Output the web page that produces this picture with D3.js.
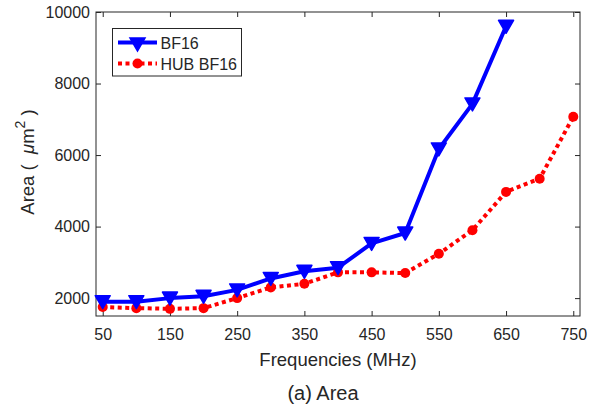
<!DOCTYPE html>
<html><head><meta charset="utf-8">
<script src="https://cdn.jsdelivr.net/npm/d3@7"></script>
<style>body{margin:0;background:#fff;} text{font-family:"Liberation Sans",Arial,sans-serif;fill:#262626;}</style>
</head><body>
<svg id="c" width="594" height="411"></svg>
<script>
const freqs = [50,100,150,200,250,300,350,400,450,500,550,600,650,700,750];
const bf16Freqs = [50,100,150,200,250,300,350,400,450,500,550,600,650];
const bf16Area = [1900,1900,2000,2050,2230,2550,2750,2850,3530,3820,6170,7430,9600];
const hubFreqs = [50,100,150,200,250,300,350,400,450,500,550,600,650,700,750];
const hubArea = [1750,1720,1700,1720,2000,2300,2400,2720,2720,2700,3240,3900,4970,5340,7070];
const xTicks = [50,150,250,350,450,550,650,750];
const yTicks = [2000,4000,6000,8000,10000];
const seriesNames = ["BF16","HUB BF16"];

const svg = d3.select("#c");
const L=96,R=580,T=12,B=316;
const x = d3.scaleLinear().domain([40,760]).range([L,R]);
const y = d3.scaleLinear().domain([1500,10000]).range([B,T]);
const ac = "#262626";

svg.append("rect").attr("x",L).attr("y",T).attr("width",R-L).attr("height",B-T)
  .attr("fill","none").attr("stroke",ac).attr("stroke-width",1);

const xa = svg.append("g").attr("transform",`translate(0,${B})`)
  .call(d3.axisBottom(x).tickValues(xTicks).tickSize(-5).tickPadding(13).tickFormat(d3.format("d")));
const xt = svg.append("g").attr("transform",`translate(0,${T})`)
  .call(d3.axisTop(x).tickValues(xTicks).tickSize(-5).tickFormat(""));
const ya = svg.append("g").attr("transform",`translate(${L},0)`)
  .call(d3.axisLeft(y).tickValues(yTicks).tickSize(-5).tickPadding(6).tickFormat(d3.format("d")));
const yr = svg.append("g").attr("transform",`translate(${R},0)`)
  .call(d3.axisRight(y).tickValues(yTicks).tickSize(-5).tickFormat(""));
[xa,xt,ya,yr].forEach(g=>{
  g.select(".domain").remove();
  g.selectAll("line").attr("stroke",ac);
  g.selectAll("text").attr("font-size",16).attr("fill",ac).style("font-family","Liberation Sans, Arial, sans-serif");
});

const bd = bf16Freqs.map((f,i)=>[f,bf16Area[i]]);
const hd = hubFreqs.map((f,i)=>[f,hubArea[i]]);
const line = d3.line().x(d=>x(d[0])).y(d=>y(d[1]));
svg.append("path").attr("d",line(hd)).attr("fill","none").attr("stroke","#ff0000")
  .attr("stroke-width",4).attr("stroke-dasharray","4,3.5");
svg.append("path").attr("d",line(bd)).attr("fill","none").attr("stroke","#0000ff")
  .attr("stroke-width",4).attr("stroke-linejoin","round");

const tri = (cx,cy)=>`M${cx-7.5},${cy-6} L${cx+7.5},${cy-6} L${cx},${cy+7} Z`;
svg.append("g").selectAll("circle").data(hd).join("circle")
  .attr("cx",d=>x(d[0])).attr("cy",d=>y(d[1])).attr("r",5).attr("fill","#ff0000");
svg.append("g").selectAll("path").data(bd).join("path")
  .attr("d",d=>tri(x(d[0]),y(d[1]))).attr("fill","#0000ff").attr("stroke","#0000ff").attr("stroke-width",1.5).attr("stroke-linejoin","round");

svg.append("rect").attr("x",112.5).attr("y",28.5).attr("width",129).attr("height",47.5)
  .attr("fill","#fff").attr("stroke",ac).attr("stroke-width",1);
svg.append("line").attr("x1",118).attr("x2",157).attr("y1",42.5).attr("y2",42.5).attr("stroke","#0000ff").attr("stroke-width",4);
svg.append("path").attr("d",tri(137.5,44)).attr("fill","#0000ff").attr("stroke","#0000ff").attr("stroke-width",1.5);
svg.append("line").attr("x1",118).attr("x2",157).attr("y1",63.5).attr("y2",63.5).attr("stroke","#ff0000").attr("stroke-width",4).attr("stroke-dasharray","4,3.5");
svg.append("circle").attr("cx",137.5).attr("cy",63.5).attr("r",5).attr("fill","#ff0000");
svg.append("text").attr("x",160.5).attr("y",48.5).attr("font-size",16).text(seriesNames[0]);
svg.append("text").attr("x",160.5).attr("y",69.5).attr("font-size",16).text(seriesNames[1]);

svg.append("text").attr("x",(L+R)/2).attr("y",366).attr("text-anchor","middle").attr("font-size",18.5).text("Frequencies (MHz)");
const yl = svg.append("text").attr("transform",`translate(34,162) rotate(-90)`).attr("text-anchor","middle").attr("font-size",18.5).attr("xml:space","preserve");
yl.append("tspan").text("Area (  ");
yl.append("tspan").attr("font-style","italic").text("\u03bc");
yl.append("tspan").text("m");
yl.append("tspan").attr("dy",-9).attr("font-size",14).text("2");
yl.append("tspan").attr("dy",9).text(" )");

svg.append("text").attr("x",323).attr("y",400).attr("text-anchor","middle").attr("font-size",20).text("(a) Area");
</script>
</body></html>
